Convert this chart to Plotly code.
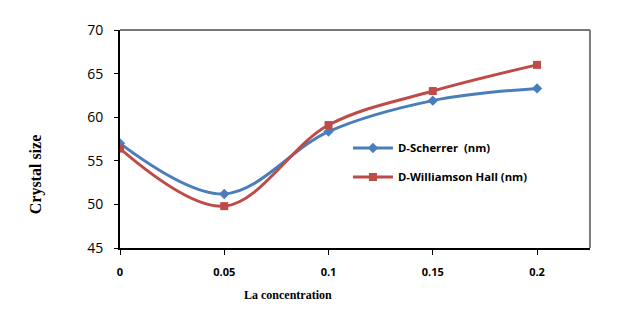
import plotly.graph_objects as go

la = [0, 0.05, 0.1, 0.15, 0.2]
scherrer = [57.0, 51.2, 58.35, 61.9, 63.3]
williamson = [56.4, 49.8, 59.1, 63.0, 66.0]
y_ticks = [45, 50, 55, 60, 65, 70]
x_ticks = [0, 0.05, 0.1, 0.15, 0.2]
x_labels = ["0", "0.05", "0.1", "0.15", "0.2"]

fig = go.Figure()
fig.add_trace(go.Scatter(x=la, y=scherrer, name="D-Scherrer  (nm)", mode="lines+markers",
                         legendgroup="a",
                         line=dict(color="#4A7EBB", width=3, shape="spline", smoothing=1),
                         marker=dict(symbol="diamond", size=8, color="#4A7EBB")))
fig.add_trace(go.Scatter(x=la, y=williamson, name="D-Williamson Hall (nm)", mode="lines+markers",
                         legendgroup="b",
                         line=dict(color="#BE4B48", width=3, shape="spline", smoothing=1),
                         marker=dict(symbol="square", size=8, color="#BE4B48")))

fig.update_layout(
    width=627, height=304,
    margin=dict(l=112, r=45, t=19, b=64),
    paper_bgcolor="white", plot_bgcolor="white",
    showlegend=True,
    legend=dict(x=0.485, y=0.525, xanchor="left", yanchor="top", bgcolor="rgba(0,0,0,0)",
                font=dict(family="Open Sans", size=11.3, color="black", weight="bold"),
                tracegroupgap=10, itemwidth=40),
    xaxis=dict(range=[0, 0.2254], tickvals=x_ticks, ticktext=x_labels,
               showgrid=False, zeroline=False, showline=True, linecolor="black", linewidth=2,
               ticks="outside", ticklen=5, tickcolor="black", tickwidth=1,
               tickfont=dict(family="Open Sans", size=11, color="black", weight="bold"),
               ticklabelstandoff=8),
    yaxis=dict(range=[45, 70], tickvals=y_ticks,
               showgrid=False, zeroline=False, showline=True, linecolor="black", linewidth=2,
               ticks="outside", ticklen=4, tickcolor="black", tickwidth=1,
               tickfont=dict(family="Open Sans", size=14, color="black"),
               ticklabelstandoff=8),
    shapes=[
        dict(type="line", xref="paper", yref="paper", x0=0, x1=1, y0=1, y1=1,
             line=dict(color="#777777", width=2)),
        dict(type="line", xref="paper", yref="paper", x0=1, x1=1, y0=0, y1=1,
             line=dict(color="#555555", width=1.5)),
    ],
    annotations=[
        dict(text="<b>Crystal size</b>", xref="paper", yref="paper", x=-0.18, y=0.34,
             xanchor="center", yanchor="middle", textangle=-90, showarrow=False,
             font=dict(family="Liberation Serif", size=16, color="black")),
        dict(text="<b>La concentration</b>", xref="paper", yref="paper", x=0.358, y=-0.215,
             xanchor="center", yanchor="middle", showarrow=False,
             font=dict(family="Liberation Serif", size=12, color="black")),
    ],
)

fig.write_html("out.html")
